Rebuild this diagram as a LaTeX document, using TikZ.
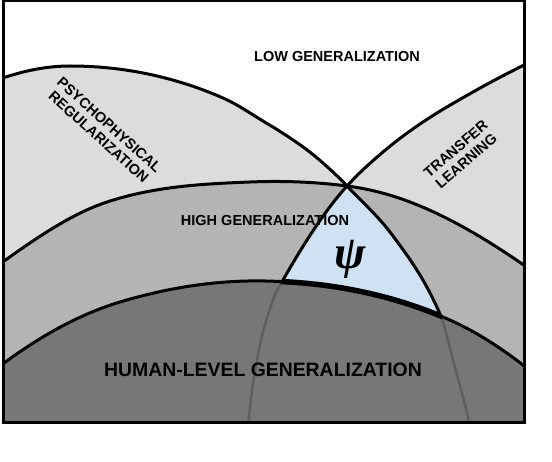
\documentclass[tikz,border=0pt]{standalone}
\usepackage{fontspec}
\setmainfont{Liberation Sans}
\newfontfamily\psifont{Liberation Serif}
\definecolor{lightg}{HTML}{DCDCDC}
\definecolor{midg}{HTML}{B4B4B4}
\definecolor{darkg}{HTML}{777777}
\definecolor{faintg}{HTML}{5E5E5E}
\definecolor{psiblue}{HTML}{CFE2F3}
\tikzset{
  Pc/.style={insert path={(0,79) .. controls (23.3,70.8) and (46.7,66) .. (70,66)
     .. controls (99,66) and (128,69.2) .. (157,76)
     .. controls (179,81.2) and (201,88.3) .. (223,98)
     .. controls (239.7,105.3) and (256.3,117.5) .. (273,127)
     .. controls (289.7,137.5) and (306.3,148.2) .. (323,163)
     .. controls (331,170.1) and (339,177.4) .. (347,186)
     .. controls (362.3,202.4) and (377.7,215.3) .. (393,236)
     .. controls (408.7,257.2) and (424.3,278) .. (440,314)
     .. controls (444.3,324) and (448.7,343.5) .. (453,360)
     .. controls (458.7,381.5) and (464.3,400.5) .. (470,426)}},
  Tc/.style={insert path={(528,63) .. controls (509.7,72.2) and (491.3,81.6) .. (473,92)
     .. controls (456.3,101.5) and (439.7,110.8) .. (423,122)
     .. controls (409.7,130.9) and (396.3,140.7) .. (383,152)
     .. controls (371,162.2) and (359,172.8) .. (347,186)
     .. controls (325.7,209.5) and (304.3,242.7) .. (283,280)
     .. controls (279.7,285.8) and (276.3,290.7) .. (273,300)
     .. controls (267.7,314.9) and (262.3,330.7) .. (257,360)
     .. controls (254,376.5) and (251,396) .. (248,426)}},
  Hc/.style={insert path={(0,264) .. controls (35.7,238.3) and (71.3,213.8) .. (107,202)
     .. controls (154.7,186.3) and (202.3,183.9) .. (250,182)
     .. controls (282.3,180.7) and (314.7,181.8) .. (347,186)
     .. controls (368,188.7) and (389,194) .. (410,202)
     .. controls (449.3,216.9) and (488.7,240.5) .. (528,268)}},
  Uc/.style={insert path={(0,366) .. controls (40,336) and (80,314) .. (120,302)
     .. controls (168.3,287.5) and (216.7,280) .. (265,281)
     .. controls (324.3,282.2) and (383.7,292.1) .. (443,317)
     .. controls (471.3,328.9) and (499.7,346.3) .. (528,369)}},
  curve/.style={draw=black, line width=3pt},
  lbl/.style={font=\bfseries\fontsize{14.5}{16}\selectfont, inner sep=0pt, align=center},
}
\begin{document}
\begin{tikzpicture}[x=1pt,y=-1pt]
\useasboundingbox (0,0) rectangle (552,462);
\coordinate (fa) at (3,1);
\coordinate (fb) at (524,423);
\begin{scope}
  \clip (fa) rectangle (fb);
  \fill[white] (fa) rectangle (fb);
  % light gray regions
  \fill[lightg][Pc] -- (0,430) -- cycle;
  \fill[lightg][Tc] -- (528,430) -- cycle;
  % high generalization
  \fill[midg][Hc] -- (528,430) -- (0,430) -- cycle;
  % psi region
  \begin{scope}
    \clip[Pc] -- (0,430) -- cycle;
    \clip[Tc] -- (528,430) -- cycle;
    \fill[psiblue][Hc] -- (528,430) -- (0,430) -- cycle;
  \end{scope}
  % human level
  \fill[darkg][Uc] -- (528,430) -- (0,430) -- cycle;
  % faint continuation lines
  \begin{scope}
    \clip[Uc] -- (528,430) -- (0,430) -- cycle;
    \draw[faintg, line width=2.5pt][Pc];
    \draw[faintg, line width=2.5pt][Tc];
  \end{scope}
  % texts
  \node[lbl] (low) at (337,57) {LOW GENERALIZATION};
  \node[lbl] (high) at (265,221) {HIGH GENERALIZATION};
  \node[lbl, font=\bfseries\fontsize{19.4}{22}\selectfont] (human) at (263,370) {HUMAN-LEVEL GENERALIZATION};
  \node[lbl, rotate=-42] (psych) at (104,131) {PSYCHOPHYSICAL\\REGULARIZATION};
  \node[lbl, rotate=41] (transfer) at (461,155) {TRANSFER\\LEARNING};
  \node[inner sep=0pt, font=\psifont\bfseries\itshape\fontsize{47}{50}\selectfont] (psi) at (350,259) {ψ};
  % black lines
  \begin{scope}
    \clip[Uc] -- (528,-10) -- (0,-10) -- cycle;
    \draw[curve][Pc];
    \draw[curve][Tc];
  \end{scope}
  \draw[curve][Hc];
  \draw[curve][Uc];
  \begin{scope}
    \clip[Pc] -- (0,430) -- cycle;
    \clip[Tc] -- (528,430) -- cycle;
    \draw[draw=black, line width=5.5pt][Uc];
  \end{scope}
\end{scope}
\draw[black, line width=3pt] (fa) rectangle (fb);
\end{tikzpicture}
\end{document}
